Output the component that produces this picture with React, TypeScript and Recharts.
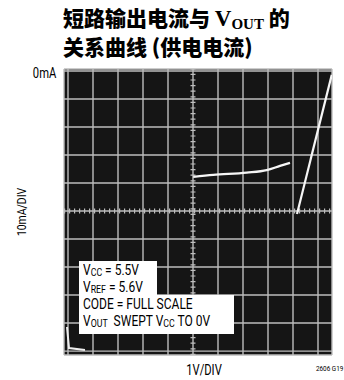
import { LineChart, Line, XAxis, YAxis, CartesianGrid, ReferenceLine } from 'recharts';

// x in volts (1V/DIV), y in mA (10mA/DIV, 0mA at top)
const xTicks = [0, 1, 2, 3, 4, 5, 6, 7, 8, 9, 10];
const yTicks = [0, -10, -20, -30, -40, -50, -60, -70, -80, -90, -100];

const lowTrace = [
  { x: -0.04, y: -91.4 },
  { x: 0.04, y: -98.9 },
  { x: 0.68, y: -99.6 },
];

const limitTrace = [
  { x: 5.01, y: -37.8 },
  { x: 5.81, y: -37.1 },
  { x: 7.15, y: -36.3 },
  { x: 7.95, y: -35.4 },
  { x: 8.48, y: -33.9 },
  { x: 8.88, y: -32.8 },
];

const riseTrace = [
  { x: 9.16, y: -51.1 },
  { x: 10.55, y: -1.4 },
];

const narrow = "Roboto, 'Liberation Sans', sans-serif";
const cjk = "'Noto Sans CJK SC', sans-serif";
const serif = "'Liberation Serif', serif";

const sub = (t: string) => (
  <span style={{ fontSize: 11, lineHeight: '8px', display: 'inline-block', position: 'relative', top: 1 }}>{t}</span>
);

const squeeze = (origin: string) => ({ transform: 'scaleX(0.8)', transformOrigin: origin });

export default function App() {
  return (
    <div style={{ position: 'absolute', left: 0, top: 0, width: 344, height: 380, background: '#fff' }}>
      <div style={{ position: 'absolute', left: 63, top: 7, fontFamily: cjk, fontWeight: 900, fontSize: 21, lineHeight: '21px', whiteSpace: 'nowrap' }}>
        短路输出电流与 <span style={{ fontFamily: serif, fontWeight: 700, fontSize: 23 }}>V</span>
        <span style={{ fontFamily: serif, fontWeight: 700, fontSize: 15, position: 'relative', top: 3 }}>OUT</span> 的
      </div>
      <div style={{ position: 'absolute', left: 63, top: 36, fontFamily: cjk, fontWeight: 900, fontSize: 21, lineHeight: '21px', whiteSpace: 'nowrap' }}>
        关系曲线 (供电电流)
      </div>

      <LineChart width={344} height={380} margin={{ top: 69, right: 12, bottom: 25, left: 64 }}>
        <XAxis type="number" dataKey="x" domain={[-0.16, 10.56]} ticks={xTicks} hide allowDataOverflow />
        <YAxis type="number" dataKey="y" domain={[-101.4, 0.7]} ticks={yTicks} hide allowDataOverflow width={0} />
        <CartesianGrid fill="#151515" stroke="#bdbdbd" strokeWidth={1.4} />
        <ReferenceLine x={5} stroke="#bdbdbd" strokeWidth={5} strokeDasharray="1.2 4.4" />
        <ReferenceLine y={-50} stroke="#bdbdbd" strokeWidth={5} strokeDasharray="1.2 3.8" />
        <Line data={lowTrace} dataKey="y" type="linear" stroke="#eeeeee" strokeWidth={2} dot={false} isAnimationActive={false} />
        <Line data={limitTrace} dataKey="y" type="monotone" stroke="#f6f6f6" strokeWidth={2.2} dot={false} isAnimationActive={false} />
        <Line data={riseTrace} dataKey="y" type="linear" stroke="#f6f6f6" strokeWidth={2.2} dot={false} isAnimationActive={false} />
      </LineChart>

      <div style={{ position: 'absolute', right: 288, top: 65, fontFamily: narrow, fontSize: 14, ...squeeze('right') }}>0mA</div>
      <div style={{ position: 'absolute', left: 21, top: 212, fontFamily: narrow, fontSize: 13, transform: 'translate(-50%, -50%) rotate(-90deg) scaleX(0.8)', whiteSpace: 'nowrap' }}>10mA/DIV</div>
      <div style={{ position: 'absolute', left: 204, top: 370, fontFamily: narrow, fontSize: 14, transform: 'translate(-50%, -50%) scaleX(0.8)', whiteSpace: 'nowrap' }}>1V/DIV</div>
      <div style={{ position: 'absolute', right: 1, top: 364, fontFamily: narrow, fontSize: 8, whiteSpace: 'nowrap', ...squeeze('right') }}>2606 G19</div>

      <div style={{ position: 'absolute', left: 79, top: 261, width: 78, height: 34, background: '#fff' }} />
      <div style={{ position: 'absolute', left: 79, top: 295, width: 155, height: 39, background: '#fff' }} />
      <div style={{ position: 'absolute', left: 83, top: 262, fontFamily: narrow, fontSize: 15, lineHeight: '17px', whiteSpace: 'nowrap', color: '#000', ...squeeze('left') }}>
        <div>V{sub('CC')} = 5.5V</div>
        <div>V{sub('REF')} = 5.6V</div>
        <div>CODE = FULL SCALE</div>
        <div>V{sub('OUT')}&nbsp; SWEPT V{sub('CC')} TO 0V</div>
      </div>
    </div>
  );
}
